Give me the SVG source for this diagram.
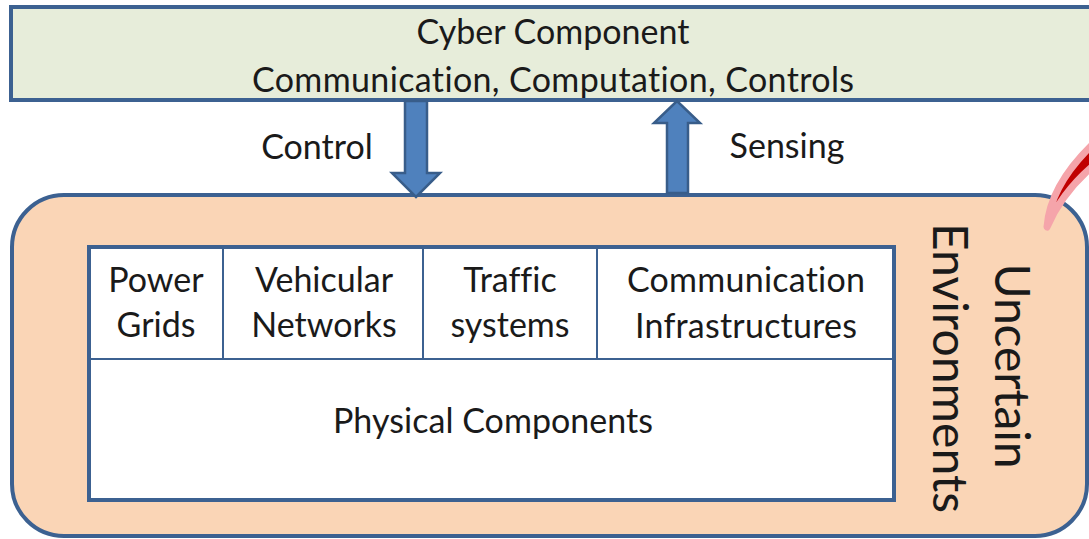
<svg xmlns="http://www.w3.org/2000/svg" width="1089" height="539" viewBox="0 0 1089 539">
  <style>
    text { font-variant-ligatures: none; font-feature-settings: "liga" 0, "clig" 0; }
    .lbl { font-family: Lato, "Open Sans", "Liberation Sans", sans-serif; font-size: 34px; fill: #1a1a1a; text-anchor: middle; }
    .big { font-family: Lato, "Open Sans", "Liberation Sans", sans-serif; font-size: 48px; fill: #1a1a1a; text-anchor: middle; }
    .frame { stroke: #3c6191; stroke-width: 4; }
    .divider { stroke: #3c6191; stroke-width: 2; fill: none; }
    .arrow { fill: #4f81bd; stroke: #385d8a; stroke-width: 2.5; stroke-linejoin: miter; }
  </style>
  <rect x="0" y="0" width="1089" height="539" fill="#ffffff"/>

  <!-- cyber layer -->
  <g id="cyber">
    <rect class="frame" x="11" y="7" width="1090" height="93" fill="#e7edda"/>
    <text class="lbl" x="553" y="44" textLength="273">Cyber Component</text>
    <text class="lbl" x="553" y="92" textLength="602">Communication, Computation, Controls</text>
  </g>

  <!-- uncertain environment shell -->
  <g id="environment">
    <rect class="frame" x="12" y="195" width="1075" height="341" rx="52" ry="52" fill="#fad5b6"/>
    <text class="big" transform="translate(995,366) rotate(90)" textLength="205">Uncertain</text>
    <text class="big" transform="translate(933,368) rotate(90)" textLength="290">Environments</text>
    <!-- red disturbance stroke -->
    <path d="M1047,227 C1049,200 1064,172 1093,144 L1093,166 C1072,184 1057,204 1047,227 Z" fill="#c00000" stroke="#f5a4aa" stroke-width="7" stroke-linejoin="round"/>
  </g>

  <!-- physical components table -->
  <g id="physical">
    <rect class="frame" x="89" y="247" width="805" height="253" fill="#ffffff"/>
    <line class="divider" x1="89" y1="359" x2="894" y2="359"/>
    <line class="divider" x1="223" y1="247" x2="223" y2="359"/>
    <line class="divider" x1="423" y1="247" x2="423" y2="359"/>
    <line class="divider" x1="597" y1="247" x2="597" y2="359"/>
    <text class="lbl" x="493" y="433" textLength="320">Physical Components</text>
  </g>
  <g id="power-grids">
    <text class="lbl" x="156" y="292">Power</text>
    <text class="lbl" x="156" y="337">Grids</text>
  </g>
  <g id="vehicular-networks">
    <text class="lbl" x="324" y="292">Vehicular</text>
    <text class="lbl" x="324" y="337">Networks</text>
  </g>
  <g id="traffic-systems">
    <text class="lbl" x="510" y="292">Traffic</text>
    <text class="lbl" x="510" y="337">systems</text>
  </g>
  <g id="communication-infrastructures">
    <text class="lbl" x="746" y="292" textLength="238">Communication</text>
    <text class="lbl" x="746" y="338" textLength="222">Infrastructures</text>
  </g>

  <!-- control / sensing links -->
  <g id="connectors">
    <polygon class="arrow" points="405,101 427,101 427,173 440,173 416,197 392,173 405,173"/>
    <polygon class="arrow" points="667,193 688,193 688,123 700,123 677,101 654,123 667,123"/>
    <text class="lbl" x="317" y="159">Control</text>
    <text class="lbl" x="787" y="158">Sensing</text>
  </g>
</svg>
